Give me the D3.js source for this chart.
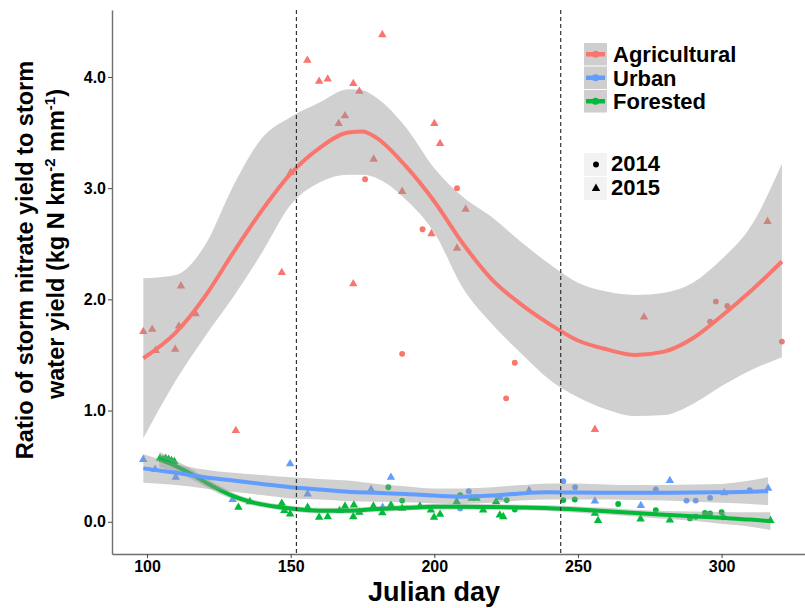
<!DOCTYPE html>
<html>
<head>
<meta charset="utf-8">
<script src="https://cdn.jsdelivr.net/npm/d3@7"></script>
<style>
  body { margin: 0; background: #fff; }
  svg text { font-family: "Liberation Sans", Arial, Helvetica, sans-serif; font-weight: bold; fill: #000; }
</style>
</head>
<body>
<svg class="chart"></svg>
<script>
// ---- observations (Julian day, ratio) ----
const agri2014Day = [175.9, 207.9, 195.9, 188.8, 228, 225, 298, 302, 296, 321];
const agri2014Val = [3.08, 3.00, 2.63, 1.51, 1.43, 1.11, 1.98, 1.94, 1.80, 1.62];
const agri2015Day = [98.7, 101.8, 103, 109.8, 111.1, 111.8, 116.9, 130.9, 146.9, 150, 155.8, 159.9, 162.9, 166.7,
                     168.9, 171.8, 171.8, 173.9, 178.9, 181.9, 188.8, 199, 200, 202, 207.9, 210.9, 255.9, 273, 316];
const agri2015Val = [1.71, 1.73, 1.54, 1.55, 1.76, 2.12, 1.87, 0.82, 2.24, 3.14, 4.15, 3.96, 3.98, 3.58,
                     3.65, 3.94, 2.14, 3.87, 3.26, 4.38, 2.97, 2.59, 3.58, 3.40, 2.46, 2.81, 0.83, 1.84, 2.70];

const urban2014Day = [209, 212, 244.9, 249, 277.1, 287.8, 291, 296, 309.8];
const urban2014Val = [0.12, 0.275, 0.365, 0.31, 0.29, 0.19, 0.19, 0.215, 0.285];
const urban2015Day = [98.7, 102.8, 110, 129.8, 149.8, 155.9, 178, 182, 184.9, 222.8, 233, 255.9, 271.9, 282, 300.9, 316.2];
const urban2015Val = [0.56, 0.47, 0.40, 0.20, 0.52, 0.25, 0.29, 0.13, 0.40, 0.22, 0.28, 0.185, 0.145, 0.37, 0.26, 0.30];

const forest2014Day = [184, 188.8, 209, 225.2, 228, 244.9, 248.9, 264, 277.1, 289, 291, 294.2, 296, 300, 300.6];
const forest2014Val = [0.31, 0.19, 0.24, 0.195, 0.11, 0.195, 0.20, 0.16, 0.105, 0.03, 0.045, 0.08, 0.075, 0.085, 0.04];
const forest2015Day = [104.5, 105.5, 106.5, 107.5, 108.5, 109.5, 131.8, 135.8, 146.9, 147.8, 149.8, 155.9, 159.9, 162.9,
                       167, 168.9, 171.8, 172, 173.9, 178.8, 181.9, 184.9, 188.8, 195, 198.8, 199.9, 202, 207.8,
                       213, 214.7, 217, 221.5, 222.8, 224, 255.9, 257, 271.8, 282, 317];
const forest2015Val = [0.57, 0.56, 0.57, 0.56, 0.55, 0.54, 0.13, 0.18, 0.165, 0.10, 0.07, 0.13, 0.04, 0.045,
                       0.10, 0.14, 0.045, 0.15, 0.085, 0.14, 0.08, 0.15, 0.12, 0.14, 0.105, 0.04, 0.066, 0.18,
                       0.21, 0.21, 0.105, 0.18, 0.06, 0.045, 0.075, 0.01, 0.025, 0.015, 0.01];

// ---- loess fits and confidence bands ----
const agriFitDay = [98.7, 110, 120, 130, 140, 150, 160, 170, 175, 180, 190, 200, 210, 220, 230, 240, 250, 260, 270, 280, 290, 300, 310, 321];
const agriFit    = [1.47, 1.70, 2.02, 2.42, 2.80, 3.13, 3.36, 3.50, 3.51, 3.45, 3.20, 2.88, 2.50, 2.18, 1.96, 1.78, 1.63, 1.55, 1.50, 1.53, 1.65, 1.85, 2.07, 2.34];
const agriHi     = [2.19, 2.22, 2.48, 3.02, 3.45, 3.64, 3.77, 3.89, 3.88, 3.81, 3.55, 3.18, 2.92, 2.74, 2.52, 2.32, 2.15, 2.07, 2.04, 2.06, 2.15, 2.36, 2.65, 3.22];
const agriLo     = [0.75, 1.27, 1.66, 2.02, 2.42, 2.85, 3.05, 3.12, 3.12, 3.09, 2.90, 2.60, 2.10, 1.78, 1.52, 1.28, 1.12, 1.01, 0.95, 0.96, 1.06, 1.22, 1.36, 1.48];

const urbanFitDay = [98.7, 110, 120, 130, 140, 150, 160, 170, 180, 190, 200, 210, 220, 230, 240, 250, 260, 270, 280, 290, 300, 310, 316.2];
const urbanFit    = [0.48, 0.44, 0.40, 0.37, 0.34, 0.31, 0.29, 0.27, 0.26, 0.25, 0.235, 0.225, 0.235, 0.255, 0.265, 0.262, 0.26, 0.26, 0.26, 0.262, 0.265, 0.27, 0.275];
const urbanHi     = [0.61, 0.52, 0.47, 0.44, 0.42, 0.40, 0.385, 0.37, 0.34, 0.32, 0.30, 0.30, 0.31, 0.33, 0.345, 0.345, 0.335, 0.33, 0.33, 0.335, 0.34, 0.37, 0.40];
const urbanLo     = [0.35, 0.33, 0.30, 0.27, 0.24, 0.21, 0.20, 0.185, 0.18, 0.175, 0.165, 0.16, 0.17, 0.19, 0.20, 0.20, 0.20, 0.195, 0.19, 0.18, 0.17, 0.16, 0.15];

const forestFitDay = [104.3, 110, 115, 120, 126.6, 130, 138.2, 145, 150, 160, 170, 180, 190, 200, 210, 220, 230, 240, 250, 260, 270, 280, 290, 300, 310, 317];
const forestFit    = [0.56, 0.50, 0.435, 0.36, 0.27, 0.23, 0.165, 0.135, 0.12, 0.10, 0.10, 0.115, 0.125, 0.135, 0.135, 0.132, 0.128, 0.122, 0.11, 0.095, 0.078, 0.062, 0.05, 0.035, 0.02, 0.005];
const forestHi     = [0.63, 0.55, 0.48, 0.40, 0.305, 0.26, 0.19, 0.16, 0.145, 0.125, 0.125, 0.14, 0.15, 0.16, 0.16, 0.157, 0.153, 0.148, 0.138, 0.125, 0.108, 0.097, 0.092, 0.088, 0.085, 0.085];
const forestLo     = [0.49, 0.45, 0.39, 0.32, 0.235, 0.20, 0.14, 0.11, 0.095, 0.075, 0.075, 0.09, 0.10, 0.11, 0.11, 0.107, 0.103, 0.096, 0.082, 0.065, 0.048, 0.027, 0.008, -0.018, -0.045, -0.075];

const seasonDays = [152, 244];
const yTicks = [0, 1, 2, 3, 4];
const xTicks = [100, 150, 200, 250, 300];
const landUse = ['Agricultural', 'Urban', 'Forested'];
const years = ['2014', '2015'];

// ---- layout ----
const width = 805, height = 608;
const colors = {Agricultural: '#F8766D', Urban: '#619CFF', Forested: '#00BA38'};

const svg = d3.select('.chart')
  .attr('width', width)
  .attr('height', height);

const xScale = d3.scaleLinear().domain([87.8, 332]).range([112, 813.5]);
const yScale = d3.scaleLinear().domain([-0.29, 4.602]).range([554, 10]);

const zip = (days, vals) => days.map((d, i) => ({day: d, val: vals[i]}));
const band = (days, fit, lo, hi) => days.map((d, i) => ({day: d, fit: fit[i], lo: lo[i], hi: hi[i]}));

const points = [
  {grp: 'Agricultural', year: '2014', data: zip(agri2014Day, agri2014Val)},
  {grp: 'Agricultural', year: '2015', data: zip(agri2015Day, agri2015Val)},
  {grp: 'Urban', year: '2014', data: zip(urban2014Day, urban2014Val)},
  {grp: 'Urban', year: '2015', data: zip(urban2015Day, urban2015Val)},
  {grp: 'Forested', year: '2014', data: zip(forest2014Day, forest2014Val)},
  {grp: 'Forested', year: '2015', data: zip(forest2015Day, forest2015Val)}
];

const circleSym = d3.symbol().type(d3.symbolCircle).size(27);
const triSym = d3.symbol().type(d3.symbolTriangle).size(31);

points.forEach(p => {
  svg.append('g').selectAll('path')
    .data(p.data)
    .enter().append('path')
    .attr('d', p.year === '2014' ? circleSym : triSym)
    .attr('transform', d => 'translate(' + xScale(d.day) + ',' + yScale(d.val) + ')')
    .style('fill', colors[p.grp]);
});

// smooths: ribbon then line per group
const fits = [
  {grp: 'Agricultural', data: band(agriFitDay, agriFit, agriLo, agriHi)},
  {grp: 'Forested', data: band(forestFitDay, forestFit, forestLo, forestHi)},
  {grp: 'Urban', data: band(urbanFitDay, urbanFit, urbanLo, urbanHi)}
];

const area = d3.area()
  .x(d => xScale(d.day))
  .y0(d => yScale(d.lo))
  .y1(d => yScale(d.hi))
  .curve(d3.curveMonotoneX);

const line = d3.line()
  .x(d => xScale(d.day))
  .y(d => yScale(d.fit))
  .curve(d3.curveMonotoneX);

fits.forEach(f => {
  svg.append('path')
    .datum(f.data)
    .attr('d', area)
    .style('fill', '#999697')
    .style('opacity', 0.45);
  svg.append('path')
    .datum(f.data)
    .attr('d', line)
    .style('fill', 'none')
    .style('stroke', colors[f.grp])
    .style('stroke-width', 4);
});

// season markers
svg.selectAll('.season')
  .data(seasonDays)
  .enter().append('line')
  .attr('x1', d => xScale(d))
  .attr('x2', d => xScale(d))
  .attr('y1', 10)
  .attr('y2', 554)
  .style('stroke', '#333')
  .style('stroke-width', 1.2)
  .style('stroke-dasharray', '4,3');

// axes
const yAxis = svg.append('g')
  .attr('transform', 'translate(112,0)')
  .call(d3.axisLeft(yScale).tickValues(yTicks).tickFormat(d3.format('.1f')).tickSize(4).tickSizeOuter(0).tickPadding(2));

const xAxis = svg.append('g')
  .attr('transform', 'translate(0,554)')
  .call(d3.axisBottom(xScale).tickValues(xTicks).tickSize(4).tickSizeOuter(0).tickPadding(3));

[yAxis, xAxis].forEach(a => {
  a.select('.domain').style('stroke', '#6e6e6e').style('stroke-width', 1.4);
  a.selectAll('.tick line').style('stroke', '#444');
  a.selectAll('.tick text').style('font-size', '16px').style('fill', '#000');
});

// axis titles
svg.append('text')
  .style('font-size', '27px')
  .style('text-anchor', 'middle')
  .attr('x', 434)
  .attr('y', 601)
  .text('Julian day');

svg.append('text')
  .style('font-size', '23.5px')
  .style('text-anchor', 'middle')
  .attr('transform', 'translate(33,260) rotate(-90)')
  .text('Ratio of storm nitrate yield to storm');

const yt2 = svg.append('text')
  .style('font-size', '23.5px')
  .style('text-anchor', 'middle')
  .attr('transform', 'translate(64,244) rotate(-90)');
yt2.append('tspan').text('water yield (kg N km');
yt2.append('tspan').attr('dy', -9).style('font-size', '15px').text('-2');
yt2.append('tspan').attr('dy', 9).text(' mm');
yt2.append('tspan').attr('dy', -9).style('font-size', '15px').text('-1');
yt2.append('tspan').attr('dy', 9).text(')');

// legend: land use
const leg = svg.append('g');
landUse.forEach((name, i) => {
  const top = 43 + i * 23.5;
  leg.append('rect')
    .attr('x', 584).attr('y', top)
    .attr('width', 23).attr('height', 22.5)
    .style('fill', '#cfcdce');
  leg.append('line')
    .attr('x1', 586).attr('x2', 605)
    .attr('y1', top + 11.25).attr('y2', top + 11.25)
    .style('stroke', colors[name]).style('stroke-width', 4.5);
  leg.append('circle')
    .attr('cx', 595.5).attr('cy', top + 11.25).attr('r', 3.5)
    .style('fill', colors[name]);
  leg.append('text')
    .attr('x', 613).attr('y', top + 19)
    .style('font-size', '22px')
    .text(name);
});

// legend: year
years.forEach((yr, i) => {
  const top = 153 + i * 24;
  leg.append('rect')
    .attr('x', 584).attr('y', top)
    .attr('width', 23).attr('height', 23)
    .style('fill', '#f2f2f2');
  leg.append('path')
    .attr('d', i === 0 ? circleSym() : triSym())
    .attr('transform', 'translate(596,' + (top + 11.5) + ')')
    .style('fill', '#000');
  leg.append('text')
    .attr('x', 611).attr('y', top + 18)
    .style('font-size', '22px')
    .text(yr);
});
</script>
</body>
</html>
